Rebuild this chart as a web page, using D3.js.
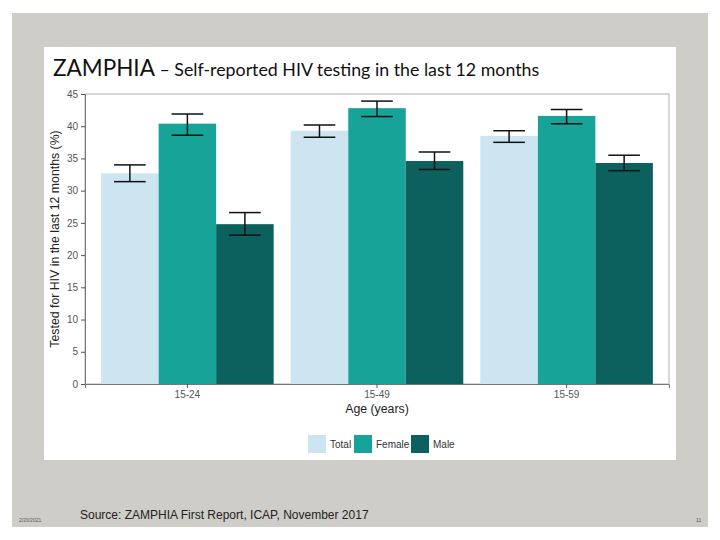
<!DOCTYPE html>
<html><head><meta charset="utf-8">
<script src="https://cdn.jsdelivr.net/npm/d3@7"></script>
<style>body{margin:0;background:#fff}svg{display:block}</style>
</head><body>
<script>
const ageGroups = ["15-24", "15-49", "15-59"];
const seriesNames = ["Total", "Female", "Male"];
const totalValues = [32.7, 39.3, 38.5];
const totalLower = [31.4, 38.3, 37.5];
const totalUpper = [34.0, 40.2, 39.3];
const femaleValues = [40.4, 42.8, 41.6];
const femaleLower = [38.6, 41.5, 40.4];
const femaleUpper = [41.9, 43.9, 42.6];
const maleValues = [24.8, 34.6, 34.3];
const maleLower = [23.1, 33.3, 33.1];
const maleUpper = [26.6, 36.0, 35.5];
const yTicks = [0, 5, 10, 15, 20, 25, 30, 35, 40, 45];
const colors = ["#cde4f1", "#17a397", "#0c615e"];

const seriesVals = [totalValues, femaleValues, maleValues];
const seriesLo = [totalLower, femaleLower, maleLower];
const seriesHi = [totalUpper, femaleUpper, maleUpper];

const rows = [];
ageGroups.forEach((g, i) => seriesNames.forEach((s, j) => rows.push({
  group: g, series: s, value: seriesVals[j][i], lo: seriesLo[j][i], hi: seriesHi[j][i], color: colors[j]
})));

const svg = d3.select("body").append("svg").attr("width", 720).attr("height", 540);
svg.append("rect").attr("x", 0).attr("y", 0).attr("width", 720).attr("height", 540).attr("fill", "#fff");
svg.append("rect").attr("x", 12).attr("y", 13).attr("width", 696).attr("height", 514).attr("fill", "#cfcdc8");
svg.append("rect").attr("x", 44).attr("y", 47).attr("width", 632).attr("height", 413).attr("fill", "#fff");

// title
const title = svg.append("text").attr("x", 53).attr("y", 76)
  .attr("font-family", "Lato, 'Open Sans', sans-serif").attr("fill", "#111");
title.append("tspan").attr("font-size", 22.5).text("ZAMPHIA");
title.append("tspan").attr("font-size", 17.8).text(" \u2013 Self-reported HIV testing in the last 12 months");

const pL = 85, pR = 669, pT = 94, pB = 384;
const y = d3.scaleLinear().domain([0, 45]).range([pB, pT]);
const x0 = d3.scaleBand().domain(ageGroups).range([pL, pR]).paddingInner(0.09).paddingOuter(0.085);
const x1 = d3.scaleBand().domain(seriesNames).range([0, x0.bandwidth()]);

// panel border
svg.append("rect").attr("x", pL).attr("y", pT).attr("width", pR - pL).attr("height", pB - pT)
  .attr("fill", "none").attr("stroke", "#b0b0b0").attr("stroke-width", 1);

// bars
svg.append("g").selectAll("rect").data(rows).join("rect")
  .attr("x", d => x0(d.group) + x1(d.series))
  .attr("y", d => y(d.value))
  .attr("width", x1.bandwidth())
  .attr("height", d => y(0) - y(d.value))
  .attr("fill", d => d.color);

// error bars
const capW = x1.bandwidth() * 0.55;
const eg = svg.append("g").attr("stroke", "#111").attr("stroke-width", 1.5).attr("fill", "none");
rows.forEach(d => {
  const cx = x0(d.group) + x1(d.series) + x1.bandwidth() / 2;
  eg.append("line").attr("x1", cx).attr("x2", cx).attr("y1", y(d.hi)).attr("y2", y(d.lo));
  eg.append("line").attr("x1", cx - capW / 2).attr("x2", cx + capW / 2).attr("y1", y(d.hi)).attr("y2", y(d.hi));
  eg.append("line").attr("x1", cx - capW / 2).attr("x2", cx + capW / 2).attr("y1", y(d.lo)).attr("y2", y(d.lo));
});

// axes
const yAxis = svg.append("g").attr("transform", `translate(${pL},0)`)
  .call(d3.axisLeft(y).tickValues(yTicks).tickSize(4).tickPadding(3));
const xAxis = svg.append("g").attr("transform", `translate(0,${pB})`)
  .call(d3.axisBottom(x0).tickSize(4).tickPadding(3));
[yAxis, xAxis].forEach(a => {
  a.select(".domain").attr("stroke", "#777");
  a.selectAll(".tick line").attr("stroke", "#555");
  a.selectAll("text").attr("font-family", "Liberation Sans, Arial, sans-serif").attr("font-size", 10).attr("fill", "#555");
});

svg.append("text").attr("transform", `translate(59,${(pT + pB) / 2}) rotate(-90)`)
  .attr("text-anchor", "middle").attr("font-family", "Liberation Sans, Arial, sans-serif")
  .attr("font-size", 12.3).attr("fill", "#222").text("Tested for HIV in the last 12 months (%)");
svg.append("text").attr("x", (pL + pR) / 2).attr("y", 413)
  .attr("text-anchor", "middle").attr("font-family", "Liberation Sans, Arial, sans-serif")
  .attr("font-size", 12.3).attr("fill", "#222").text("Age (years)");

// legend
const legendX = [308, 354, 411];
const lg = svg.append("g");
seriesNames.forEach((s, j) => {
  lg.append("rect").attr("x", legendX[j]).attr("y", 435).attr("width", 18).attr("height", 18).attr("fill", colors[j]);
  lg.append("text").attr("x", legendX[j] + 22).attr("y", 447.5)
    .attr("font-family", "Liberation Sans, Arial, sans-serif").attr("font-size", 10).attr("fill", "#333").text(s);
});

// footer
svg.append("text").attr("x", 80).attr("y", 519).attr("font-family", "Liberation Sans, Arial, sans-serif")
  .attr("font-size", 12).attr("fill", "#222").text("Source: ZAMPHIA First Report, ICAP, November 2017");
svg.append("text").attr("x", 19).attr("y", 522).attr("font-family", "Liberation Sans, Arial, sans-serif")
  .attr("font-size", 5).attr("fill", "#555").text("2/20/2021");
svg.append("text").attr("x", 696).attr("y", 522).attr("font-family", "Liberation Sans, Arial, sans-serif")
  .attr("font-size", 5).attr("fill", "#555").text("11");
</script>
</body></html>
